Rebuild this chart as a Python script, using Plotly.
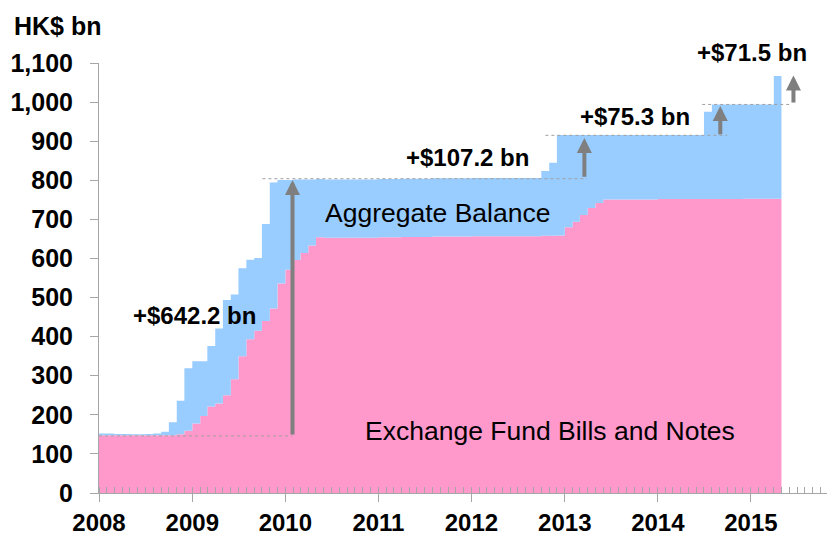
import pandas as pd
import plotly.graph_objects as go

# ---------------- data (HK$ bn, month-end, Jan 2008 - Apr 2015) ----------------
months = pd.date_range("2008-01-01", periods=88, freq="MS")
period_end = pd.Timestamp("2015-05-01")

exchange_fund_bills = [
    # 2008
    148, 148, 148, 148, 148, 148, 148, 148, 148, 148, 150, 159,
    # 2009
    178, 197, 221, 229, 250, 291, 350, 393, 415, 440, 472, 536,
    # 2010
    571, 596, 614, 633, 654, 653, 653, 653, 653, 653, 653, 653,
    # 2011
    654, 654, 654, 655, 655, 655, 655, 656, 656, 656, 656, 656,
    # 2012
    657, 657, 657, 657, 657, 657, 657, 657, 657, 658, 658, 659,
    # 2013
    680, 694, 711, 729, 742, 751, 751, 751, 751, 751, 751, 751,
    # 2014
    752, 752, 752, 752, 752, 752, 752, 752, 752, 752, 752, 753,
    # 2015
    753, 753, 753, 753,
]
aggregate_balance = [
    # 2008
    4, 4, 3, 3, 2, 2, 3, 4, 9, 33, 86, 160,
    # 2009
    159, 140, 155, 192, 244, 217, 225, 204, 186, 248, 322, 265,
    # 2010
    230, 206, 188, 169, 149, 149, 149, 149, 149, 149, 149, 149,
    # 2011
    149, 149, 149, 149, 149, 149, 149, 149, 149, 149, 149, 149,
    # 2012
    149, 149, 149, 149, 149, 149, 149, 149, 149, 166, 187, 257,
    # 2013
    236, 222, 205, 187, 174, 165, 165, 165, 165, 165, 165, 165,
    # 2014
    164, 164, 164, 164, 164, 164, 223, 242, 242, 242, 242, 241,
    # 2015
    241, 241, 241, 314,
]

year_ticks = ["2008-01-01", "2009-01-01", "2010-01-01", "2011-01-01",
              "2012-01-01", "2013-01-01", "2014-01-01", "2015-01-01"]
year_labels = ["2008", "2009", "2010", "2011", "2012", "2013", "2014", "2015"]
y_ticks = [0, 100, 200, 300, 400, 500, 600, 700, 800, 900, 1000, 1100]
y_labels = ["0", "100", "200", "300", "400", "500", "600", "700", "800",
            "900", "1,000", "1,100"]

# increase arrows: (x, from, to) and their labels
arrow_x = ["2010-01-29", "2013-03-19", "2014-09-03", "2015-06-17"]
arrow_from = [146, 805, 914, 995]
arrow_to = [801, 908, 990, 1068]
arrow_labels = ["+$642.2 bn", "+$107.2 bn", "+$75.3 bn", "+$71.5 bn"]
label_x = ["2009-01-08", "2011-12-15", "2013-10-03", "2015-01-06"]
label_y = [453, 857, 963, 1127]

# dotted reference levels: (start, end, level)
ref_start = ["2008-01-01", "2009-10-03", "2012-10-17", "2014-06-24"]
ref_end = ["2010-01-29", "2013-03-28", "2014-09-30", "2015-06-07"]
ref_level = [146, 804, 915, 994]

PINK = "#FF99CC"
BLUE = "#99CCFF"
GREY = "#7F7F7F"
AXIS = "#A6A6A6"
FONT = "Arial, Liberation Sans, sans-serif"

# ---------------- figure ----------------
x_steps = list(months) + [period_end]
efbn_steps = exchange_fund_bills + [exchange_fund_bills[-1]]
total_steps = [a + b for a, b in zip(exchange_fund_bills, aggregate_balance)]
total_steps = total_steps + [total_steps[-1]]

fig = go.Figure()
fig.add_trace(go.Scatter(
    x=x_steps, y=efbn_steps, mode="lines", line=dict(width=0, shape="hv", color=PINK),
    fill="tozeroy", fillcolor=PINK, name="Exchange Fund Bills and Notes", hoverinfo="skip"))
fig.add_trace(go.Scatter(
    x=x_steps, y=total_steps, mode="lines", line=dict(width=0, shape="hv", color=BLUE),
    fill="tonexty", fillcolor=BLUE, name="Aggregate Balance", hoverinfo="skip"))

for s, e, lv in zip(ref_start, ref_end, ref_level):
    fig.add_trace(go.Scatter(
        x=[s, e], y=[lv, lv], mode="lines",
        line=dict(color="#A0A0A0", width=1, dash="dot"), hoverinfo="skip"))

annotations = []
for ax_, y0, y1 in zip(arrow_x, arrow_from, arrow_to):
    annotations.append(dict(
        x=ax_, y=y1, ax=ax_, ay=y0, xref="x", yref="y", axref="x", ayref="y",
        text="", showarrow=True, arrowhead=2, arrowsize=0.75, arrowwidth=4,
        arrowcolor=GREY, standoff=0, startstandoff=0))

for t, lx, ly in zip(arrow_labels, label_x, label_y):
    lab_font = dict(family=FONT, size=24, color="black", weight="bold")
    if ly > 1100:
        annotations.append(dict(x=lx, y=(ly / 1100.0), xref="x", yref="paper",
                                xanchor="center", yanchor="middle",
                                text=t, showarrow=False, font=lab_font))
    else:
        annotations.append(dict(x=lx, y=ly, xref="x", yref="y",
                                xanchor="center", yanchor="middle",
                                text=t, showarrow=False, font=lab_font))

annotations.append(dict(x="2011-08-19", y=716, xref="x", yref="y",
                        text="Aggregate Balance", showarrow=False,
                        font=dict(family=FONT, size=26.5, color="black")))
annotations.append(dict(x="2012-11-04", y=159, xref="x", yref="y",
                        text="Exchange Fund Bills and Notes", showarrow=False,
                        font=dict(family=FONT, size=26.5, color="black")))
annotations.append(dict(x=-0.118, y=1.086, xref="paper", yref="paper",
                        xanchor="left", yanchor="middle",
                        text="HK$ bn", showarrow=False,
                        font=dict(family=FONT, size=25, color="black", weight="bold")))

# the page body adds an 8 px margin, so the figure is drawn 8 px smaller
fig.update_layout(
    width=827, height=529,
    margin=dict(l=91, r=0, t=55, b=44, autoexpand=False),
    paper_bgcolor="white", plot_bgcolor="white",
    showlegend=False,
    annotations=annotations,
    xaxis=dict(
        type="date", automargin=False,
        range=["2008-01-01", "2015-11-27"],
        tickmode="array", tickvals=year_ticks, ticktext=year_labels,
        ticks="outside", ticklen=8, tickwidth=1, tickcolor=AXIS,
        showline=True, linecolor=AXIS, linewidth=1,
        showgrid=False, zeroline=False,
        tickfont=dict(family=FONT, size=24, color="black", weight="bold"),
        ticklabelstandoff=0,
        minor=dict(ticks="inside", ticklen=6, tickwidth=1, tickcolor=AXIS,
                   dtick="M1", tick0="2008-01-01", showgrid=False),
        layer="above traces",
    ),
    yaxis=dict(
        range=[0, 1100], automargin=False,
        tickmode="array", tickvals=y_ticks, ticktext=y_labels,
        ticks="outside", ticklen=8, tickwidth=1, tickcolor=AXIS,
        showline=True, linecolor=AXIS, linewidth=1,
        showgrid=False, zeroline=False,
        tickfont=dict(family=FONT, size=25, color="black", weight="bold"),
        ticklabelstandoff=12,
        layer="above traces",
    ),
)

fig.write_html("out.html")
